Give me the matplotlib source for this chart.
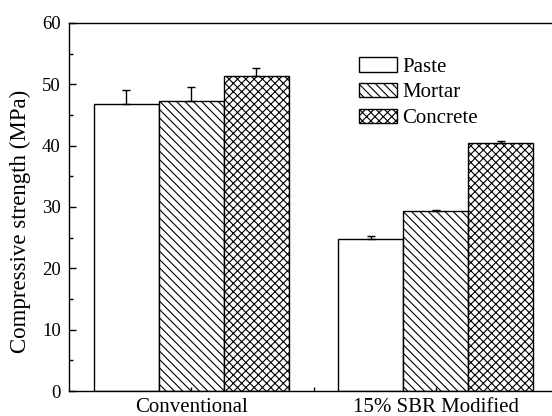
import numpy as np
import matplotlib.pyplot as plt

plt.rcParams['font.family'] = ['Liberation Serif', 'DejaVu Serif']
plt.rcParams['hatch.linewidth'] = 0.8

groups = ['Conventional', '15% SBR Modified']
materials = ['Paste', 'Mortar', 'Concrete']
hatches = ['', '\\\\\\\\', 'xxxx']
strength = {
    'Paste': [46.7, 24.8],
    'Mortar': [47.3, 29.3],
    'Concrete': [51.3, 40.4],
}
std_dev = {
    'Paste': [2.4, 0.4],
    'Mortar': [2.2, 0.2],
    'Concrete': [1.4, 0.3],
}

fig = plt.figure(figsize=(5.52, 4.16), dpi=100)
ax = fig.add_axes([0.125, 0.06, 0.886, 0.885])

x = np.array([1, 2])
w = 0.266
for i, m in enumerate(materials):
    ax.bar(x + (i - 1) * w, strength[m], w, color='white', edgecolor='black',
           hatch=hatches[i], linewidth=1.0, label=m)
    ax.errorbar(x + (i - 1) * w, strength[m], yerr=[np.zeros(2), std_dev[m]],
                fmt='none', ecolor='black', elinewidth=1.0, capsize=3, capthick=1.0)

ax.set_xlim(0.5, 2.5)
ax.set_ylim(0, 60)
ax.set_yticks(np.arange(0, 61, 10))
ax.set_yticks(np.arange(5, 60, 10), minor=True)
ax.set_xticks(x)
ax.set_xticklabels(groups)
ax.set_xticks([1.5], minor=True)
ax.tick_params(direction='in', width=1.0, length=5)
ax.tick_params(which='minor', direction='in', width=1.0, length=3)
ax.tick_params(axis='y', labelsize=13.5, pad=6)
ax.tick_params(axis='x', which='major', length=3, pad=5, labelsize=15)
ax.set_ylabel('Compressive strength (MPa)', fontsize=16.5)
ax.yaxis.set_label_coords(-0.077, 0.46)
for s in ax.spines.values():
    s.set_linewidth(1.0)

ax.legend(loc='upper left', bbox_to_anchor=(0.575, 0.93), frameon=False, fontsize=15,
          handlelength=1.85, handleheight=0.7, handletextpad=0.25, labelspacing=0.3,
          borderaxespad=0.0)

fig.savefig('out.png', dpi=100)
